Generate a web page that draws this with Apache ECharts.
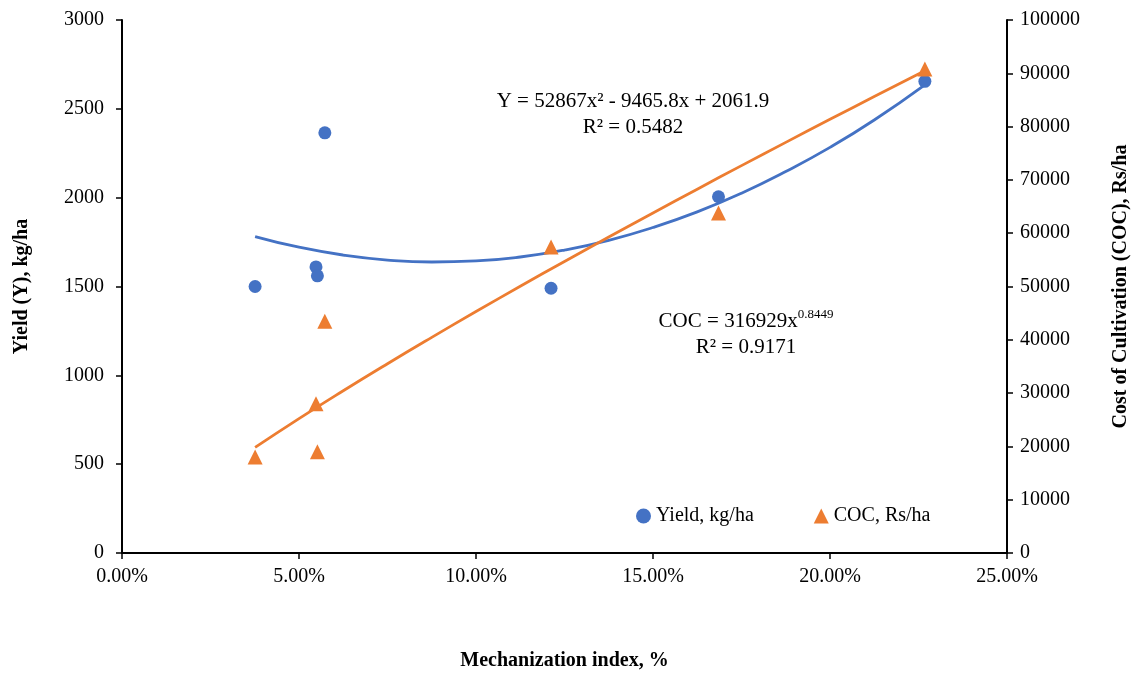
<!DOCTYPE html>
<html>
<head>
<meta charset="utf-8">
<title>Mechanization index vs Yield and COC</title>
<script src="https://cdn.jsdelivr.net/npm/echarts@6/dist/echarts.min.js"></script>
<style>
  html, body { margin: 0; padding: 0; background: #fff; }
  #chart { width: 1134px; height: 674px; }
</style>
</head>
<body>
<div id="chart"></div>
<script>
// mechanization index (fraction) of each farm group
const mechIndex = [0.0376, 0.0548, 0.0552, 0.0573, 0.1212, 0.1685, 0.2268]
// yield, kg/ha
const yieldVals = [1500, 1610, 1560, 2365, 1490, 2005, 2655]
// cost of cultivation, Rs/ha
const cocVals = [18000, 28000, 19000, 43500, 57400, 63800, 90800]

// trend lines
const trendX = [0.0376, 0.05, 0.0625, 0.075, 0.0875, 0.10, 0.1125, 0.125, 0.1375, 0.15, 0.1625, 0.175, 0.1875, 0.20, 0.2125, 0.2268]
const yieldTrend = [1781, 1721, 1677, 1649, 1638, 1644, 1666, 1705, 1760, 1832, 1920, 2025, 2147, 2283, 2437, 2635]
const cocTrend = [19815, 25220, 30450, 35520, 40460, 45300, 50040, 54690, 59270, 63800, 68260, 72680, 77040, 81360, 85630, 90490]

const xTicks = { min: 0, max: 0.25, interval: 0.05 }
const yLeftTicks = { min: 0, max: 3000, interval: 500 }
const yRightTicks = { min: 0, max: 100000, interval: 10000 }

const BLUE = "#4472C4"
const ORANGE = "#ED7D31"
const FONT = "Liberation Serif"

function pairs(xs, ys) {
  return xs.map((x, i) => [x, ys[i]])
}

const axisCommon = {
  axisLine: { show: true, lineStyle: { color: "#000", width: 2 } },
  axisTick: { show: true, length: 6, lineStyle: { color: "#000", width: 1.5 } },
  splitLine: { show: false },
  axisLabel: {
    color: "#000", fontFamily: FONT, fontSize: 20, margin: 14,
    formatter: function (v) { return String(v) }
  },
  nameTextStyle: { color: "#000", fontFamily: FONT, fontSize: 20, fontWeight: "bold" }
}

const myChart = echarts.init(document.getElementById("chart"))
const option = {
  animation: false,
  backgroundColor: "#fff",
  grid: { left: 122, right: 127, top: 20, bottom: 121, outerBoundsMode: "none", containLabel: false },
  legend: {
    data: ["Yield, kg/ha", "COC, Rs/ha"],
    left: 631,
    top: 501,
    itemWidth: 15,
    itemHeight: 15,
    itemGap: 60,
    textStyle: { color: "#000", fontFamily: FONT, fontSize: 20 }
  },
  xAxis: {
    type: "value",
    ...xTicks,
    ...axisCommon,
    axisLabel: {
      ...axisCommon.axisLabel,
      margin: 14,
      formatter: function (v) { return (v * 100).toFixed(2) + "%" }
    },
    name: "Mechanization index, %",
    nameLocation: "middle",
    nameGap: 98
  },
  yAxis: [
    {
      type: "value",
      ...yLeftTicks,
      ...axisCommon,
      axisLabel: { ...axisCommon.axisLabel, margin: 18 },
      name: "Yield (Y), kg/ha",
      nameLocation: "middle",
      nameGap: 90
    },
    {
      type: "value",
      position: "right",
      ...yRightTicks,
      ...axisCommon,
      axisLabel: { ...axisCommon.axisLabel, margin: 13 },
      name: "Cost of Cultivation (COC), Rs/ha",
      nameLocation: "middle",
      nameGap: 104
    }
  ],
  graphic: [
    {
      type: "text",
      x: 633,
      y: 88,
      style: {
        text: "{a|Y = 52867x² - 9465.8x + 2061.9}\n{a|R² = 0.5482}",
        align: "center",
        rich: { a: { fontFamily: FONT, fontSize: 21, lineHeight: 26, color: "#000" } }
      }
    },
    {
      type: "text",
      x: 746,
      y: 308,
      style: {
        text: "{a|COC = 316929x}{s|0.8449}\n{a|R² = 0.9171}",
        align: "center",
        rich: {
          a: { fontFamily: FONT, fontSize: 21, lineHeight: 26, color: "#000" },
          s: { fontFamily: FONT, fontSize: 13, lineHeight: 14, verticalAlign: "top", color: "#000" }
        }
      }
    }
  ],
  series: [
    {
      name: "Yield trend",
      type: "line",
      yAxisIndex: 0,
      smooth: true,
      symbol: "none",
      lineStyle: { color: BLUE, width: 2.8 },
      data: pairs(trendX, yieldTrend),
      z: 2
    },
    {
      name: "COC trend",
      type: "line",
      yAxisIndex: 1,
      smooth: true,
      symbol: "none",
      lineStyle: { color: ORANGE, width: 2.8 },
      data: pairs(trendX, cocTrend),
      z: 2
    },
    {
      name: "Yield, kg/ha",
      type: "scatter",
      yAxisIndex: 0,
      symbol: "circle",
      symbolSize: 13,
      itemStyle: { color: BLUE, opacity: 1 },
      data: pairs(mechIndex, yieldVals),
      z: 3
    },
    {
      name: "COC, Rs/ha",
      type: "scatter",
      yAxisIndex: 1,
      symbol: "triangle",
      symbolSize: 15,
      itemStyle: { color: ORANGE, opacity: 1 },
      data: pairs(mechIndex, cocVals),
      z: 3
    }
  ]
}
myChart.setOption(option)

window.addEventListener("resize", function () {
  myChart.resize()
})
</script>
</body>
</html>
